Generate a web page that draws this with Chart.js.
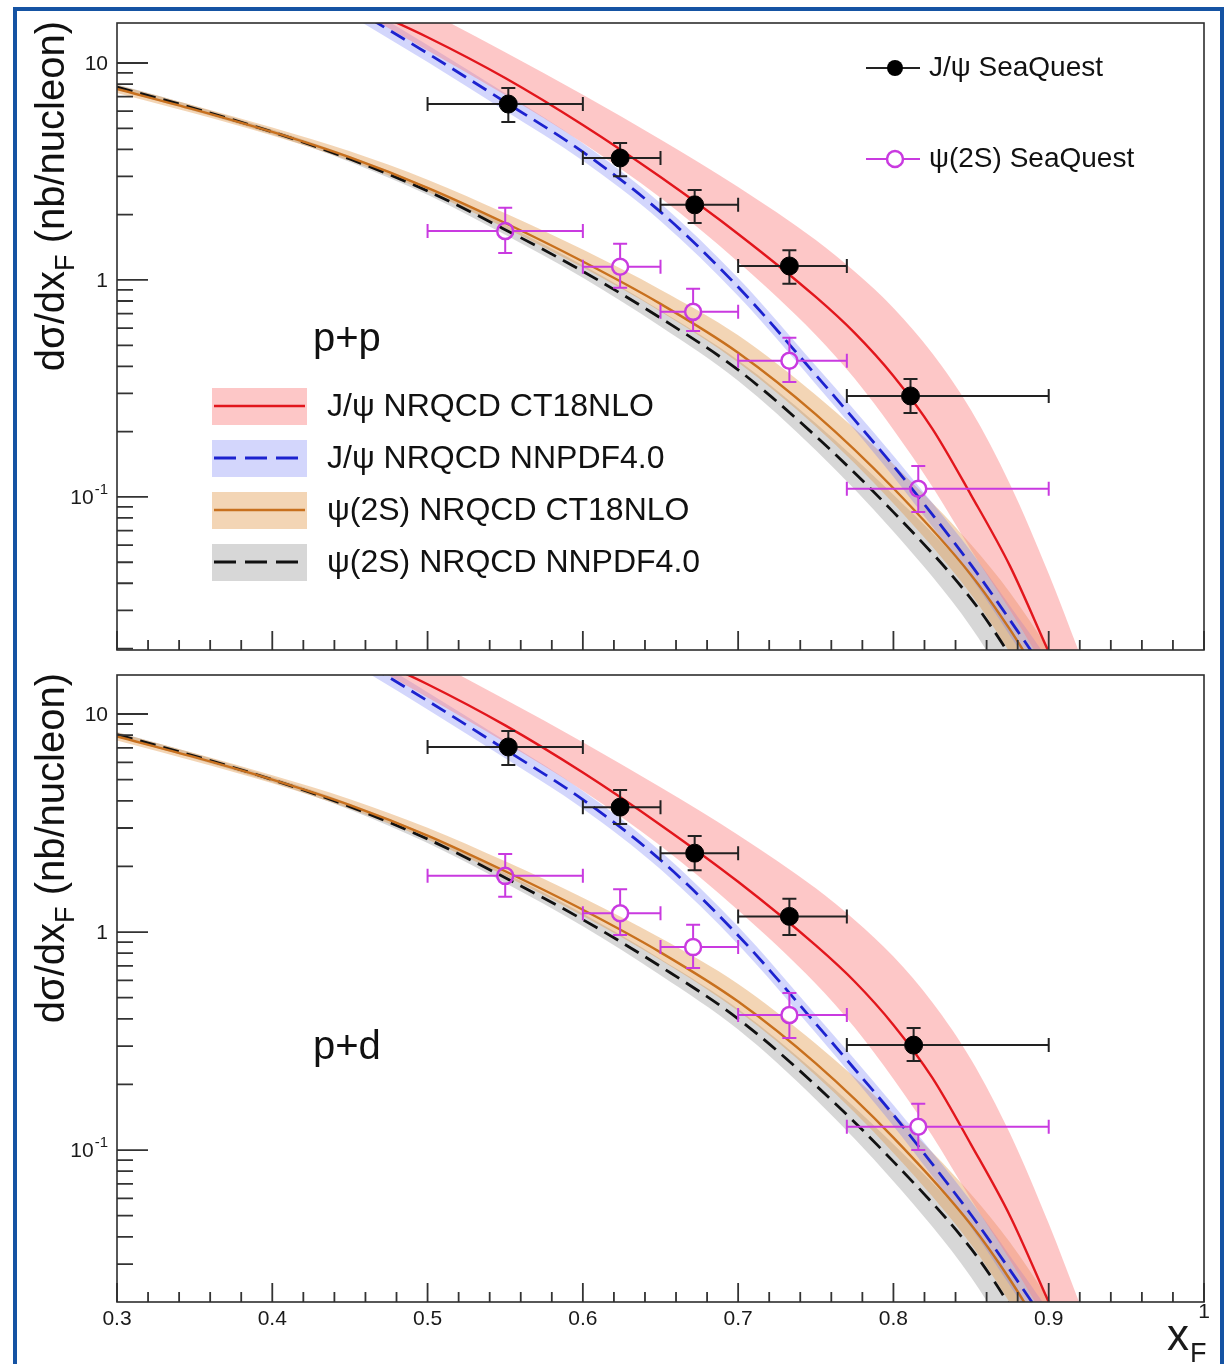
<!DOCTYPE html>
<html>
<head>
<meta charset="utf-8">
<script src="https://cdn.jsdelivr.net/npm/chart.js@4.4.0/dist/chart.umd.min.js"></script>
<style>
  html, body { margin: 0; padding: 0; background: #fff; }
  body { width: 1232px; height: 1364px; position: relative; overflow: hidden; }
  #frame { position: absolute; left: 13px; top: 7px; width: 1211px; height: 1420px; box-sizing: border-box; border: 4px solid #1553a3; }
  canvas { position: absolute; left: 0; }
  #ppCanvas { top: 0; }
  #pdCanvas { top: 662px; }
</style>
</head>
<body>
<div id="frame"></div>
<canvas id="ppCanvas" width="1232" height="662"></canvas>
<canvas id="pdCanvas" width="1232" height="702"></canvas>
<script>
const FONT = '"Liberation Sans", Arial, Helvetica, sans-serif';

// x_F grids of the NRQCD curves
const xJpsi = [0.45, 0.50, 0.55, 0.60, 0.65, 0.70, 0.75, 0.775, 0.80, 0.825, 0.85, 0.875, 0.90, 0.92];
const xPsi = [0.30, 0.35, 0.40, 0.45, 0.50, 0.55, 0.60, 0.65, 0.70, 0.75, 0.80, 0.85, 0.875, 0.90];

// p+p, J/psi (central, band high, band low)
const ppJpsiCt   = [19.2, 13.15, 8.53, 5.18, 2.98, 1.63, 0.835, 0.570, 0.361, 0.2066, 0.102, 0.0481, 0.0193, 0.0094];
const ppJpsiCtHi = [26.0, 17.3, 11.21, 7.14, 4.44, 2.68, 1.527, 1.093, 0.743, 0.459, 0.2506, 0.1148, 0.0442, 0.0189];
const ppJpsiCtLo = [18.3, 11.43, 7.12, 4.28, 2.39, 1.21, 0.558, 0.351, 0.204, 0.1117, 0.057, 0.0301, 0.0151, 0.0084];
const ppJpsiNn   = [18.2, 11.08, 6.61, 3.89, 2.06, 0.928, 0.365, 0.2264, 0.139, 0.0831, 0.0486, 0.0271, 0.0147, 0.0084];
const ppJpsiNnHi = [19.9, 12.1, 7.25, 4.27, 2.26, 1.02, 0.402, 0.251, 0.155, 0.0939, 0.056, 0.0315, 0.0175, 0.0100];
const ppJpsiNnLo = [16.6, 10.1, 6.02, 3.54, 1.87, 0.843, 0.331, 0.204, 0.124, 0.0731, 0.0425, 0.023, 0.0122, 0.0070];
// p+p, psi(2S)
const ppPsiCt   = [7.59, 6.10, 4.81, 3.67, 2.66, 1.83, 1.216, 0.776, 0.462, 0.240, 0.1096, 0.0437, 0.0245, 0.0126];
const ppPsiCtHi = [7.91, 6.35, 5.04, 3.92, 2.90, 2.03, 1.380, 0.902, 0.556, 0.295, 0.1413, 0.0603, 0.0363, 0.0200];
const ppPsiCtLo = [7.28, 5.85, 4.63, 3.54, 2.55, 1.738, 1.140, 0.716, 0.417, 0.2113, 0.0933, 0.0355, 0.0191, 0.0093];
const ppPsiNn   = [7.75, 6.17, 4.81, 3.61, 2.57, 1.706, 1.096, 0.668, 0.385, 0.1905, 0.0851, 0.0339, 0.0186, 0.0091];
const ppPsiNnHi = [7.96, 6.34, 4.94, 3.73, 2.68, 1.795, 1.169, 0.724, 0.427, 0.2188, 0.1023, 0.0437, 0.0251, 0.0129];
const ppPsiNnLo = [7.53, 6.00, 4.68, 3.50, 2.47, 1.614, 1.023, 0.610, 0.343, 0.164, 0.0692, 0.0251, 0.0129, 0.0059];

// p+d, J/psi
const pdJpsiCt   = [20.0, 13.7, 8.87, 5.39, 3.10, 1.70, 0.868, 0.593, 0.375, 0.215, 0.106, 0.0500, 0.0201, 0.0098];
const pdJpsiCtHi = [27.0, 18.0, 11.66, 7.43, 4.62, 2.79, 1.588, 1.137, 0.773, 0.477, 0.2606, 0.1194, 0.0460, 0.0197];
const pdJpsiCtLo = [19.0, 11.9, 7.40, 4.45, 2.49, 1.26, 0.580, 0.365, 0.212, 0.1162, 0.0593, 0.0313, 0.0157, 0.0087];
const pdJpsiNn   = [18.9, 11.5, 6.87, 4.05, 2.14, 0.965, 0.380, 0.2355, 0.145, 0.0864, 0.0505, 0.0282, 0.0153, 0.0087];
const pdJpsiNnHi = [20.7, 12.6, 7.54, 4.44, 2.35, 1.06, 0.418, 0.261, 0.161, 0.0977, 0.0582, 0.0328, 0.0182, 0.0104];
const pdJpsiNnLo = [17.3, 10.5, 6.26, 3.68, 1.94, 0.877, 0.344, 0.212, 0.129, 0.0760, 0.0442, 0.0239, 0.0127, 0.0073];
// p+d, psi(2S)
const pdPsiCt   = [7.89, 6.34, 5.00, 3.82, 2.77, 1.90, 1.265, 0.807, 0.480, 0.2496, 0.114, 0.0454, 0.0255, 0.0131];
const pdPsiCtHi = [8.22, 6.61, 5.24, 4.07, 3.01, 2.11, 1.435, 0.938, 0.578, 0.307, 0.147, 0.0627, 0.0378, 0.0208];
const pdPsiCtLo = [7.57, 6.08, 4.82, 3.68, 2.66, 1.81, 1.186, 0.745, 0.434, 0.2198, 0.097, 0.0369, 0.0199, 0.0097];
const pdPsiNn   = [8.05, 6.41, 5.00, 3.76, 2.67, 1.774, 1.140, 0.695, 0.400, 0.1981, 0.0885, 0.0353, 0.0193, 0.0095];
const pdPsiNnHi = [8.28, 6.59, 5.14, 3.88, 2.79, 1.867, 1.216, 0.753, 0.444, 0.2276, 0.1064, 0.0454, 0.0261, 0.0134];
const pdPsiNnLo = [7.84, 6.24, 4.86, 3.64, 2.56, 1.679, 1.064, 0.634, 0.357, 0.1706, 0.0720, 0.0261, 0.0134, 0.0061];

// SeaQuest points: x_F bins and cross sections with error limits
const binLo = [0.50, 0.60, 0.65, 0.70, 0.77];
const binHi = [0.60, 0.65, 0.70, 0.77, 0.90];

const ppJpsiX  = [0.552, 0.624, 0.672, 0.733, 0.811];
const ppJpsiY  = [6.47, 3.65, 2.22, 1.16, 0.292];
const ppJpsiUp = [7.67, 4.28, 2.60, 1.37, 0.350];
const ppJpsiDn = [5.35, 3.01, 1.83, 0.96, 0.244];
const ppPsiX   = [0.550, 0.624, 0.671, 0.733, 0.816];
const ppPsiY   = [1.68, 1.15, 0.713, 0.424, 0.109];
const ppPsiUp  = [2.15, 1.47, 0.91, 0.541, 0.139];
const ppPsiDn  = [1.33, 0.92, 0.582, 0.339, 0.0853];

const pdJpsiX  = [0.552, 0.624, 0.672, 0.733, 0.813];
const pdJpsiY  = [7.06, 3.74, 2.30, 1.18, 0.303];
const pdJpsiUp = [8.36, 4.48, 2.76, 1.42, 0.363];
const pdJpsiDn = [5.84, 3.13, 1.92, 0.97, 0.256];
const pdPsiX   = [0.550, 0.624, 0.671, 0.733, 0.816];
const pdPsiY   = [1.81, 1.22, 0.853, 0.416, 0.128];
const pdPsiUp  = [2.28, 1.57, 1.08, 0.525, 0.163];
const pdPsiDn  = [1.45, 0.97, 0.684, 0.327, 0.100];

// axis ticks
const xTickVals = [0.3, 0.4, 0.5, 0.6, 0.7, 0.8, 0.9, 1.0];
const xTickLabels = ["0.3", "0.4", "0.5", "0.6", "0.7", "0.8", "0.9", "1"];
const yTickVals = [0.1, 1, 10];
const yTickLabels = [["10", "-1"], ["1", ""], ["10", ""]];

const legendNames = ["J/\u03c8 NRQCD CT18NLO", "J/\u03c8 NRQCD NNPDF4.0", "\u03c8(2S) NRQCD CT18NLO", "\u03c8(2S) NRQCD NNPDF4.0"];

// colours
const RED = "#e2161c", RED_BAND = "rgba(250,130,130,0.45)";
const BLUE = "#1c22cf", BLUE_BAND = "rgba(110,120,245,0.30)";
const ORANGE = "#c8701e", ORANGE_BAND = "rgba(225,150,70,0.40)";
const BLACK = "#111111", GREY_BAND = "rgba(140,140,140,0.35)";
const MAGENTA = "#c93ae0";
const DASH = [16, 8];

function pts(xs, ys) {
  return xs.map((x, i) => ({ x: x, y: ys[i] }));
}

function bandPair(xs, hi, lo, color) {
  return [
    { data: pts(xs, hi), backgroundColor: color, borderWidth: 0, pointRadius: 0, fill: "+1", order: 3, cubicInterpolationMode: "monotone" },
    { data: pts(xs, lo), borderWidth: 0, pointRadius: 0, fill: false, order: 3, cubicInterpolationMode: "monotone" }
  ];
}

function curve(xs, ys, color, width, dash) {
  return { data: pts(xs, ys), borderColor: color, borderWidth: width, borderDash: dash || [], pointRadius: 0, fill: false, order: 2, cubicInterpolationMode: "monotone" };
}

function points(xs, ys, up, dn, color, open) {
  return {
    data: pts(xs, ys), showLine: false, order: 1,
    pointRadius: open ? 8 : 9,
    pointBackgroundColor: open ? "rgba(0,0,0,0)" : color,
    pointBorderColor: color,
    pointBorderWidth: open ? 2.5 : 1,
    errBars: { color: open ? MAGENTA : "#222", xLo: binLo, xHi: binHi, yHi: up, yLo: dn }
  };
}

// error bars drawn just before their marker dataset
const errorBars = {
  id: "errorBars",
  beforeDatasetDraw(chart, args) {
    const ds = chart.data.datasets[args.index];
    if (!ds.errBars) return;
    const e = ds.errBars;
    const { ctx, scales: { x, y } } = chart;
    const r = ds.pointRadius;
    const cap = 7;
    ctx.save();
    ctx.strokeStyle = e.color;
    ctx.lineWidth = 2;
    ctx.beginPath();
    ds.data.forEach((p, i) => {
      const px = x.getPixelForValue(p.x), py = y.getPixelForValue(p.y);
      const xl = x.getPixelForValue(e.xLo[i]), xr = x.getPixelForValue(e.xHi[i]);
      const yt = y.getPixelForValue(e.yHi[i]), yb = y.getPixelForValue(e.yLo[i]);
      ctx.moveTo(xl, py); ctx.lineTo(px - r, py);
      ctx.moveTo(px + r, py); ctx.lineTo(xr, py);
      ctx.moveTo(px, yt); ctx.lineTo(px, py - r);
      ctx.moveTo(px, py + r); ctx.lineTo(px, yb);
      ctx.moveTo(xl, py - cap); ctx.lineTo(xl, py + cap);
      ctx.moveTo(xr, py - cap); ctx.lineTo(xr, py + cap);
      ctx.moveTo(px - cap, yt); ctx.lineTo(px + cap, yt);
      ctx.moveTo(px - cap, yb); ctx.lineTo(px + cap, yb);
    });
    ctx.stroke();
    ctx.restore();
  }
};

function yTitle(ctx, baseX, endY) {
  const parts = [["d\u03c3/dx", 40, 0], ["F", 27, 10], [" (nb/nucleon)", 40, 0]];
  ctx.save();
  ctx.translate(baseX, endY);
  ctx.rotate(-Math.PI / 2);
  ctx.fillStyle = "#111";
  ctx.textBaseline = "alphabetic";
  ctx.textAlign = "left";
  let total = 0;
  parts.forEach(p => { ctx.font = p[1] + "px " + FONT; total += ctx.measureText(p[0]).width; });
  let cx = -total;
  parts.forEach(p => {
    ctx.font = p[1] + "px " + FONT;
    ctx.fillText(p[0], cx, p[2]);
    cx += ctx.measureText(p[0]).width;
  });
  ctx.restore();
}

// frame, inward ticks, labels and legends
const decor = {
  id: "decor",
  afterDraw(chart, _args, o) {
    const { ctx, chartArea: a, scales: { x, y } } = chart;
    ctx.save();
    ctx.strokeStyle = "#333";
    ctx.lineWidth = 1.8;
    ctx.beginPath();
    for (let i = 15; i <= 50; i++) {
      const px = x.getPixelForValue(i / 50);
      const len = i % 5 === 0 ? 19 : 10;
      ctx.moveTo(px, a.bottom); ctx.lineTo(px, a.bottom - len);
    }
    for (let e = -2; e <= 1; e++) {
      for (let m = 1; m <= 9; m++) {
        const v = m * Math.pow(10, e);
        if (v < y.min || v > y.max) continue;
        const py = y.getPixelForValue(v);
        ctx.moveTo(a.left, py); ctx.lineTo(a.left + (m === 1 ? 31 : 16), py);
      }
    }
    ctx.stroke();
    ctx.lineWidth = 1.6;
    ctx.strokeStyle = "#2e2e2e";
    ctx.strokeRect(a.left, a.top, a.right - a.left, a.bottom - a.top);

    // y tick labels
    ctx.fillStyle = "#1a1a1a";
    ctx.textBaseline = "middle";
    ctx.textAlign = "right";
    yTickVals.forEach((v, i) => {
      const base = yTickLabels[i][0], sup = yTickLabels[i][1];
      const py = y.getPixelForValue(v);
      let right = a.left - 9;
      if (sup) {
        ctx.font = "15px " + FONT;
        ctx.fillText(sup, right, py - 7);
        right -= ctx.measureText(sup).width + 1;
      }
      ctx.font = "21px " + FONT;
      ctx.fillText(base, right, py + 1);
    });

    if (o.xLabels) {
      ctx.textAlign = "center";
      ctx.font = "21px " + FONT;
      xTickVals.forEach((v, i) => {
        const raise = v === 1 ? 7 : 0;
        ctx.fillText(xTickLabels[i], x.getPixelForValue(v), a.bottom + 17 - raise);
      });
      ctx.textAlign = "left";
      ctx.textBaseline = "alphabetic";
      ctx.font = "44px " + FONT;
      ctx.fillText("x", a.right - 37, a.bottom + 48);
      ctx.font = "27px " + FONT;
      ctx.fillText("F", a.right - 14, a.bottom + 60);
    }

    yTitle(ctx, 64, a.top - 2);

    ctx.textAlign = "left";
    ctx.textBaseline = "middle";
    ctx.fillStyle = "#111";
    ctx.font = "40px " + FONT;
    ctx.fillText(o.label, 313, o.labelY);

    if (o.legends) {
      // SeaQuest markers
      const rows = [[68, "#222", false, "J/\u03c8 SeaQuest"], [159, MAGENTA, true, "\u03c8(2S) SeaQuest"]];
      rows.forEach(r => {
        ctx.strokeStyle = r[1];
        ctx.lineWidth = 2;
        ctx.beginPath();
        ctx.moveTo(866, r[0]); ctx.lineTo(920, r[0]);
        ctx.stroke();
        ctx.beginPath();
        ctx.arc(895, r[0], 8, 0, Math.PI * 2);
        if (r[2]) {
          ctx.fillStyle = "#fff"; ctx.fill();
          ctx.lineWidth = 2.5; ctx.stroke();
        } else {
          ctx.fillStyle = "#000"; ctx.fill();
        }
        ctx.fillStyle = "#111";
        ctx.font = "28px " + FONT;
        ctx.fillText(r[3], 929, r[0]);
      });

      // theory legend
      const entries = [
        [RED_BAND, RED, 2.4, false],
        [BLUE_BAND, BLUE, 2.8, true],
        [ORANGE_BAND, ORANGE, 2.4, false],
        [GREY_BAND, BLACK, 2.8, true]
      ];
      entries.forEach((en, i) => {
        const cy = 406 + i * 52;
        ctx.fillStyle = en[0];
        ctx.fillRect(212, cy - 18, 95, 37);
        ctx.strokeStyle = en[1];
        ctx.lineWidth = en[2];
        ctx.setLineDash(en[3] ? [22, 9] : []);
        ctx.beginPath();
        ctx.moveTo(214, cy); ctx.lineTo(305, cy);
        ctx.stroke();
        ctx.setLineDash([]);
        ctx.fillStyle = "#111";
        ctx.font = "32px " + FONT;
        ctx.fillText(legendNames[i], 327, cy + 1);
      });
    }
    ctx.restore();
  }
};

function makePanel(id, d, yMin, yMax, padding, opts) {
  const datasets = [].concat(
    bandPair(xJpsi, d.jcHi, d.jcLo, RED_BAND),
    bandPair(xJpsi, d.jnHi, d.jnLo, BLUE_BAND),
    bandPair(xPsi, d.pcHi, d.pcLo, ORANGE_BAND),
    bandPair(xPsi, d.pnHi, d.pnLo, GREY_BAND),
    [
      curve(xJpsi, d.jc, RED, 2.4),
      curve(xJpsi, d.jn, BLUE, 2.8, DASH),
      curve(xPsi, d.pc, ORANGE, 2.4),
      curve(xPsi, d.pn, BLACK, 2.8, DASH),
      points(d.psX, d.psY, d.psUp, d.psDn, MAGENTA, true),
      points(d.jsX, d.jsY, d.jsUp, d.jsDn, "#000", false)
    ]
  );
  return new Chart(document.getElementById(id), {
    type: "line",
    data: { datasets: datasets },
    options: {
      responsive: false,
      animation: false,
      events: [],
      layout: { padding: padding },
      scales: {
        x: { type: "linear", min: 0.3, max: 1.0, bounds: "data", display: false },
        y: { type: "logarithmic", min: yMin, max: yMax, bounds: "data", display: false }
      },
      plugins: {
        legend: { display: false },
        tooltip: { enabled: false },
        decor: opts
      }
    },
    plugins: [errorBars, decor]
  });
}

makePanel("ppCanvas", {
  jc: ppJpsiCt, jcHi: ppJpsiCtHi, jcLo: ppJpsiCtLo,
  jn: ppJpsiNn, jnHi: ppJpsiNnHi, jnLo: ppJpsiNnLo,
  pc: ppPsiCt, pcHi: ppPsiCtHi, pcLo: ppPsiCtLo,
  pn: ppPsiNn, pnHi: ppPsiNnHi, pnLo: ppPsiNnLo,
  jsX: ppJpsiX, jsY: ppJpsiY, jsUp: ppJpsiUp, jsDn: ppJpsiDn,
  psX: ppPsiX, psY: ppPsiY, psUp: ppPsiUp, psDn: ppPsiDn
}, 0.0197, 15.29, { left: 117, right: 28, top: 23, bottom: 12 },
  { label: "p+p", labelY: 340, xLabels: false, legends: true });

makePanel("pdCanvas", {
  jc: pdJpsiCt, jcHi: pdJpsiCtHi, jcLo: pdJpsiCtLo,
  jn: pdJpsiNn, jnHi: pdJpsiNnHi, jnLo: pdJpsiNnLo,
  pc: pdPsiCt, pcHi: pdPsiCtHi, pcLo: pdPsiCtLo,
  pn: pdPsiNn, pnHi: pdPsiNnHi, pnLo: pdPsiNnLo,
  jsX: pdJpsiX, jsY: pdJpsiY, jsUp: pdJpsiUp, jsDn: pdJpsiDn,
  psX: pdPsiX, psY: pdPsiY, psUp: pdPsiUp, psDn: pdPsiDn
}, 0.0201, 15.1, { left: 117, right: 28, top: 13, bottom: 62 },
  { label: "p+d", labelY: 386, xLabels: true, legends: false });
</script>
</body>
</html>
